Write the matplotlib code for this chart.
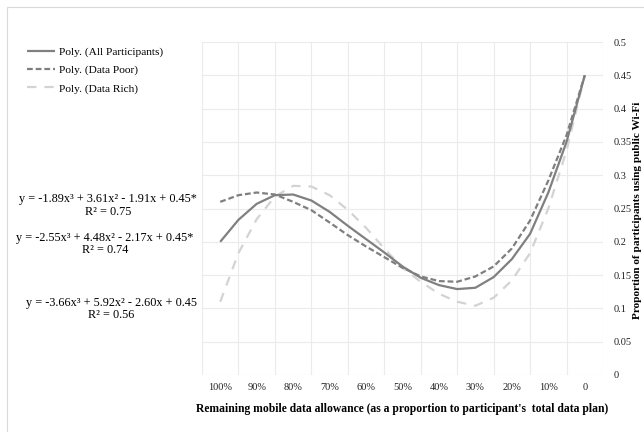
import matplotlib
matplotlib.use("Agg")
import matplotlib.pyplot as plt
from matplotlib.patches import Rectangle

plt.rcParams['font.family'] = ['Liberation Serif', 'DejaVu Serif']

# Category axis labels (remaining data allowance)
categories = ['100%', '90%', '80%', '70%', '60%', '50%', '40%', '30%', '20%', '10%', '0']
# Positions read every 5% (100%, 95%, ..., 0)
sample_labels = ['100%', '95%', '90%', '85%', '80%', '75%', '70%', '65%', '60%', '55%', '50%',
                 '45%', '40%', '35%', '30%', '25%', '20%', '15%', '10%', '5%', '0']

all_participants = [0.200, 0.233, 0.257, 0.270, 0.271, 0.262, 0.245, 0.224, 0.204, 0.184, 0.163,
                    0.146, 0.135, 0.129, 0.131, 0.147, 0.174, 0.212, 0.274, 0.350, 0.450]
data_poor = [0.260, 0.270, 0.274, 0.271, 0.260, 0.2475, 0.229, 0.210, 0.193, 0.177, 0.161,
             0.148, 0.141, 0.140, 0.148, 0.163, 0.190, 0.232, 0.292, 0.360, 0.450]
data_rich = [0.110, 0.183, 0.234, 0.268, 0.284, 0.283, 0.270, 0.248, 0.221, 0.190, 0.161,
             0.140, 0.122, 0.110, 0.104, 0.116, 0.142, 0.183, 0.250, 0.337, 0.450]

series_labels = ['Poly. (All Participants)', 'Poly. (Data Poor)', 'Poly. (Data Rich)']
equations = ['y = -1.89x\u00b3 + 3.61x\u00b2 - 1.91x + 0.45*\nR\u00b2 = 0.75',
             'y = -2.55x\u00b3 + 4.48x\u00b2 - 2.17x + 0.45*\nR\u00b2 = 0.74',
             'y = -3.66x\u00b3 + 5.92x\u00b2 - 2.60x + 0.45\nR\u00b2 = 0.56']
y_ticks = [0, 0.05, 0.1, 0.15, 0.2, 0.25, 0.3, 0.35, 0.4, 0.45, 0.5]
y_ticklabels = ['0', '0.05', '0.1', '0.15', '0.2', '0.25', '0.3', '0.35', '0.4', '0.45', '0.5']

W, H = 644, 432
fig = plt.figure(figsize=(W / 100, H / 100), dpi=100)
fig.patch.set_facecolor('white')

# chart border (light)
fig.add_artist(Rectangle((7 / W, -0.1), 1.2, (432 - 7) / H + 0.1, transform=fig.transFigure,
                         fill=False, edgecolor='#d9d9d9', linewidth=0.8))

ax = fig.add_axes([202 / W, (H - 375) / H, 401 / W, 333 / H])
ax.set_facecolor('white')
for s in ax.spines.values():
    s.set_visible(False)

xs = [i * 0.5 for i in range(len(sample_labels))]
grid_c = '#ebebeb'
for i in range(len(categories) + 1):
    ax.axvline(i - 0.5, color=grid_c, lw=0.8, zorder=0)
for yv in y_ticks:
    ax.axhline(yv, color=grid_c, lw=0.8, zorder=0)

l1, = ax.plot(xs, all_participants, color='#808080', lw=1.6, solid_capstyle='butt', zorder=3)
l2, = ax.plot(xs, data_poor, color='#7f7f7f', lw=1.6, dashes=(2.6, 1.3), zorder=3)
l3, = ax.plot(xs, data_rich, color='#d3d3d3', lw=1.6, dashes=(4.2, 3.6), zorder=2)

ax.set_xlim(-0.5, len(categories) - 0.5)
ax.set_ylim(0, 0.5)
ax.set_xticks(range(len(categories)))
ax.set_xticklabels(categories, fontsize=7.5, color='#222222')
ax.yaxis.tick_right()
ax.set_yticks(y_ticks)
ax.set_yticklabels(y_ticklabels, fontsize=7.5, color='#222222')
ax.tick_params(axis='y', length=0, pad=8)
ax.tick_params(axis='x', length=0, pad=6)
for lab in ax.get_yticklabels():
    lab.set_horizontalalignment('left')

ax.set_xlabel("Remaining mobile data allowance (as a proportion to participant's  total data plan)",
              fontsize=8.4, fontweight='bold', labelpad=8)
fig.text(637.5 / W, 1 - 210 / H, 'Proportion of participants using public Wi-Fi', rotation=90,
         ha='center', va='center', fontsize=8.1, fontweight='bold')

fig.legend([l1, l2, l3], series_labels, loc='upper left', bbox_to_anchor=(27 / W, 1 - 47 / H),
           frameon=False, fontsize=8.2, handlelength=2.5, handletextpad=0.3, labelspacing=0.7,
           borderpad=0, borderaxespad=0)

eq_pos = [(108, 205.5), (105, 244), (111, 309)]
for (px, py), txt in zip(eq_pos, equations):
    fig.text(px / W, 1 - py / H, txt, ha='center', va='center', fontsize=8.8,
             linespacing=1.05, multialignment='center')

fig.savefig('out.png', dpi=100, facecolor='white')
